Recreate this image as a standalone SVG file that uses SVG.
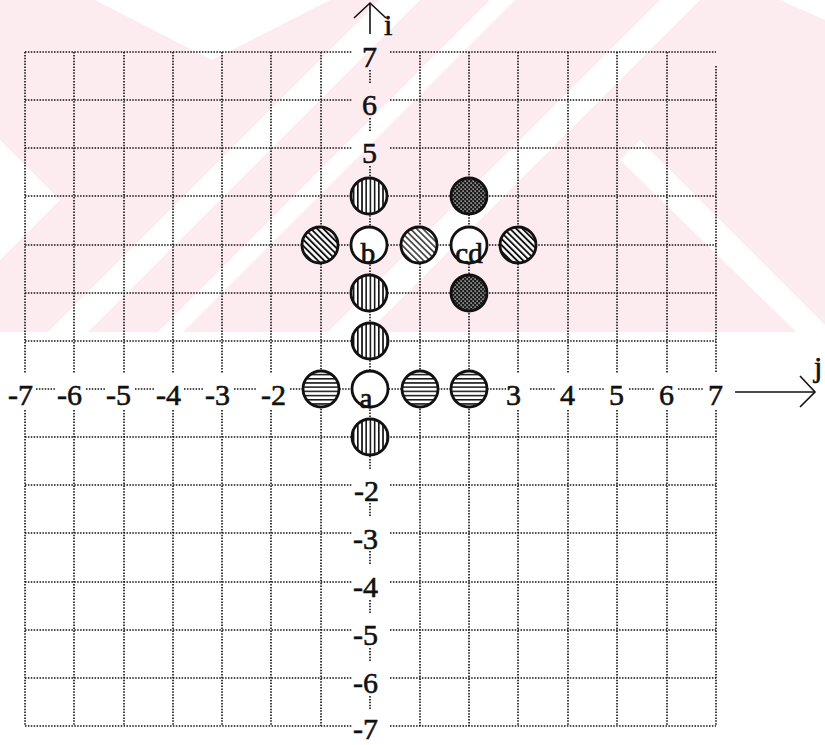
<svg xmlns="http://www.w3.org/2000/svg" width="825" height="745" viewBox="0 0 825 745">
<defs>
<style>
.g{stroke:#111;stroke-width:1.6;stroke-dasharray:1.5 1.4;fill:none}
.lbl{font-family:"Liberation Serif","Times New Roman",serif;font-size:30px;fill:#111;stroke:#111;stroke-width:0.6;text-anchor:end}
.let{font-family:"Liberation Serif","Times New Roman",serif;font-size:29px;fill:#111;stroke:#111;stroke-width:0.7;text-anchor:middle}
.ax{font-family:"Liberation Serif","Times New Roman",serif;font-size:30px;fill:#111;stroke:#111;stroke-width:0.6}
.c{stroke:#111;stroke-width:2.8}
.arr{stroke:#111;stroke-width:1.6;fill:none}
</style>
<pattern id="pv" width="4.2" height="4" patternUnits="userSpaceOnUse"><rect width="4.2" height="4" fill="#fff"/><rect x="0" width="1.6" height="4" fill="#111"/></pattern>
<pattern id="ph" width="4" height="4.2" patternUnits="userSpaceOnUse"><rect width="4" height="4.2" fill="#fff"/><rect y="0" width="4" height="1.5" fill="#111"/></pattern>
<pattern id="pd" width="4.4" height="4.4" patternUnits="userSpaceOnUse" patternTransform="rotate(-45)"><rect width="4.4" height="4.4" fill="#fff"/><rect width="1.9" height="4.4" fill="#111"/></pattern>
<pattern id="pd2" width="4.4" height="4.4" patternUnits="userSpaceOnUse" patternTransform="rotate(-45)"><rect width="4.4" height="4.4" fill="#fff"/><rect width="1.7" height="4.4" fill="#444"/></pattern>
<pattern id="px" width="4" height="4" patternUnits="userSpaceOnUse"><rect width="4" height="4" fill="#1c1c1c"/><rect x="0.5" y="0.5" width="1.2" height="1.2" fill="#fff"/><rect x="2.5" y="2.5" width="1.2" height="1.2" fill="#fff"/></pattern>
<clipPath id="wm"><rect x="0" y="0" width="825" height="332"/></clipPath>
</defs>
<rect width="825" height="745" fill="#fff"/>
<g id="watermark" clip-path="url(#wm)">
<rect x="0" y="0" width="825" height="332" fill="#fdecef"/>
<g fill="#fff">
<polygon points="95,0 330,0 212,60"/>
<polygon points="380,0 420,0 88,332 48,332"/>
<polygon points="490,0 515,0 183,332 158,332"/>
<polygon points="660,0 700,0 368,332 328,332"/>
<polygon points="780,0 825,0 825,20"/>
<polygon points="640,140 825,325 825,360 620,160"/>
<polygon points="0,140 60,200 0,260"/>
</g>
</g>
<g id="grid">
<line class="g" x1="25" y1="52" x2="352" y2="52"/><line class="g" x1="390" y1="52" x2="716" y2="52"/>
<line class="g" x1="25" y1="100" x2="352" y2="100"/><line class="g" x1="390" y1="100" x2="716" y2="100"/>
<line class="g" x1="25" y1="148" x2="352" y2="148"/><line class="g" x1="390" y1="148" x2="716" y2="148"/>
<line class="g" x1="25" y1="196" x2="716" y2="196"/>
<line class="g" x1="25" y1="245" x2="716" y2="245"/>
<line class="g" x1="25" y1="293" x2="716" y2="293"/>
<line class="g" x1="25" y1="341" x2="716" y2="341"/>
<line class="g" x1="25" y1="437" x2="716" y2="437"/>
<line class="g" x1="25" y1="485" x2="352" y2="485"/><line class="g" x1="390" y1="485" x2="716" y2="485"/>
<line class="g" x1="25" y1="533" x2="352" y2="533"/><line class="g" x1="390" y1="533" x2="716" y2="533"/>
<line class="g" x1="25" y1="582" x2="352" y2="582"/><line class="g" x1="390" y1="582" x2="716" y2="582"/>
<line class="g" x1="25" y1="630" x2="352" y2="630"/><line class="g" x1="390" y1="630" x2="716" y2="630"/>
<line class="g" x1="25" y1="678" x2="352" y2="678"/><line class="g" x1="390" y1="678" x2="716" y2="678"/>
<line class="g" x1="25" y1="726" x2="352" y2="726"/><line class="g" x1="390" y1="726" x2="716" y2="726"/>
<line class="g" x1="25" y1="52" x2="25" y2="373"/><line class="g" x1="25" y1="410" x2="25" y2="726"/>
<line class="g" x1="74" y1="52" x2="74" y2="373"/><line class="g" x1="74" y1="410" x2="74" y2="726"/>
<line class="g" x1="124" y1="52" x2="124" y2="373"/><line class="g" x1="124" y1="410" x2="124" y2="726"/>
<line class="g" x1="173" y1="52" x2="173" y2="373"/><line class="g" x1="173" y1="410" x2="173" y2="726"/>
<line class="g" x1="222" y1="52" x2="222" y2="373"/><line class="g" x1="222" y1="410" x2="222" y2="726"/>
<line class="g" x1="271" y1="52" x2="271" y2="373"/><line class="g" x1="271" y1="410" x2="271" y2="726"/>
<line class="g" x1="321" y1="52" x2="321" y2="726"/>
<line class="g" x1="420" y1="52" x2="420" y2="726"/>
<line class="g" x1="469" y1="52" x2="469" y2="726"/>
<line class="g" x1="518" y1="52" x2="518" y2="373"/><line class="g" x1="518" y1="410" x2="518" y2="726"/>
<line class="g" x1="568" y1="52" x2="568" y2="373"/><line class="g" x1="568" y1="410" x2="568" y2="726"/>
<line class="g" x1="617" y1="52" x2="617" y2="373"/><line class="g" x1="617" y1="410" x2="617" y2="726"/>
<line class="g" x1="667" y1="52" x2="667" y2="373"/><line class="g" x1="667" y1="410" x2="667" y2="726"/>
<line class="g" x1="716" y1="66" x2="716" y2="373"/><line class="g" x1="716" y1="410" x2="716" y2="726"/>
</g>
<g id="axes">
<line class="g" x1="36" y1="389" x2="55" y2="389"/>
<line class="g" x1="86" y1="389" x2="105" y2="389"/>
<line class="g" x1="135" y1="389" x2="154" y2="389"/>
<line class="g" x1="184" y1="389" x2="203" y2="389"/>
<line class="g" x1="234" y1="389" x2="256" y2="389"/>
<line class="g" x1="290" y1="389" x2="506" y2="389"/>
<line class="g" x1="530" y1="389" x2="556" y2="389"/>
<line class="g" x1="579" y1="389" x2="605" y2="389"/>
<line class="g" x1="629" y1="389" x2="655" y2="389"/>
<line class="g" x1="678" y1="389" x2="704" y2="389"/>
<line class="g" x1="370" y1="70" x2="370" y2="83"/>
<line class="g" x1="370" y1="118" x2="370" y2="131"/>
<line class="g" x1="370" y1="166" x2="370" y2="470"/>
<line class="g" x1="370" y1="503" x2="370" y2="517"/>
<line class="g" x1="370" y1="551" x2="370" y2="565"/>
<line class="g" x1="370" y1="600" x2="370" y2="613"/>
<line class="g" x1="370" y1="648" x2="370" y2="661"/>
<line class="g" x1="370" y1="696" x2="370" y2="709"/>
<line class="arr" x1="370" y1="34" x2="370" y2="3"/>
<polyline class="arr" points="354,18 370,3 386,18"/>
<line class="arr" x1="735" y1="392" x2="815" y2="392"/>
<polyline class="arr" points="800,376 815,392 800,407"/>
<text class="ax" x="384" y="35">i</text>
<text class="ax" x="814" y="377">j</text>
</g>
<g id="labels">
<text class="lbl" x="33" y="405">-7</text>
<text class="lbl" x="82" y="405">-6</text>
<text class="lbl" x="131" y="405">-5</text>
<text class="lbl" x="181" y="405">-4</text>
<text class="lbl" x="230" y="405">-3</text>
<text class="lbl" x="286" y="405">-2</text>
<text class="lbl" x="521" y="405">3</text>
<text class="lbl" x="575" y="405">4</text>
<text class="lbl" x="624" y="405">5</text>
<text class="lbl" x="674" y="405">6</text>
<text class="lbl" x="723" y="405">7</text>
<text class="lbl" x="377" y="67">7</text>
<text class="lbl" x="377" y="115">6</text>
<text class="lbl" x="377" y="163">5</text>
<text class="lbl" x="379" y="501">-2</text>
<text class="lbl" x="378" y="549">-3</text>
<text class="lbl" x="378" y="597">-4</text>
<text class="lbl" x="378" y="645">-5</text>
<text class="lbl" x="378" y="693">-6</text>
<text class="lbl" x="378" y="739">-7</text>
</g>
<g id="node-b"><circle class="c" cx="369" cy="245" r="18" fill="#fff"/><text class="let" x="368" y="263">b</text></g>
<g id="node-cd"><circle class="c" cx="469" cy="245" r="18" fill="#fff"/><text class="let" x="469" y="263">cd</text></g>
<g id="node-a"><circle class="c" cx="370" cy="389" r="18" fill="#fff"/><text class="let" x="366" y="408">a</text></g>
<g id="node-v1"><circle class="c" cx="369" cy="196" r="18" fill="url(#pv)"/></g>
<g id="node-v2"><circle class="c" cx="369" cy="293" r="18" fill="url(#pv)"/></g>
<g id="node-v3"><circle class="c" cx="370" cy="341" r="18" fill="url(#pv)"/></g>
<g id="node-v4"><circle class="c" cx="370" cy="437" r="18" fill="url(#pv)"/></g>
<g id="node-x1"><circle class="c" cx="469" cy="196" r="18" fill="url(#px)"/></g>
<g id="node-x2"><circle class="c" cx="469" cy="293" r="18" fill="url(#px)"/></g>
<g id="node-d1"><circle class="c" cx="320" cy="245" r="18" fill="url(#pd)"/></g>
<g id="node-d2"><circle class="c" cx="419" cy="245" r="18" fill="url(#pd2)"/></g>
<g id="node-d3"><circle class="c" cx="518" cy="245" r="18" fill="url(#pd)"/></g>
<g id="node-h1"><circle class="c" cx="321" cy="389" r="18" fill="url(#ph)"/></g>
<g id="node-h2"><circle class="c" cx="420" cy="389" r="18" fill="url(#ph)"/></g>
<g id="node-h3"><circle class="c" cx="469" cy="389" r="18" fill="url(#ph)"/></g>
</svg>
